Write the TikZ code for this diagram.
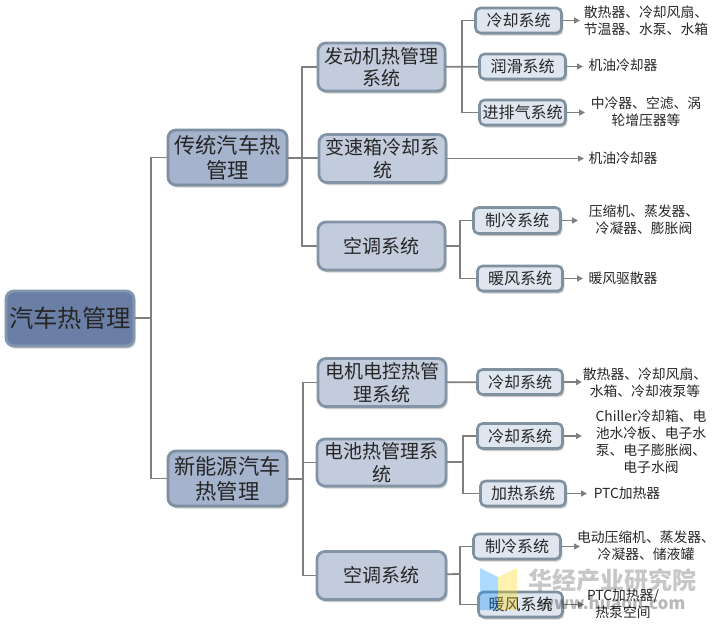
\documentclass[tikz,border=0pt]{standalone}
\usepackage{fontspec}
\setmainfont{Noto Sans CJK SC}
\usetikzlibrary{arrows.meta,shadows,calc}
\definecolor{rootfill}{HTML}{6B7FA6}
\definecolor{rootedge}{HTML}{8496AE}
\definecolor{onefill}{HTML}{A5B3CC}
\definecolor{oneedge}{HTML}{7D90A3}
\definecolor{twofill}{HTML}{C3CCDD}
\definecolor{twoedge}{HTML}{8294A6}
\definecolor{threefill}{HTML}{DFE6F0}
\definecolor{threeedge}{HTML}{7F909F}
\definecolor{wirecol}{HTML}{7F7F7F}
\tikzset{
  base/.style={rounded corners=8pt,align=center,inner sep=0pt,line width=2.8pt,text=black!85,
    general shadow={shadow xshift=1.2pt,shadow yshift=-2pt,fill=black,opacity=.18},
    general shadow={shadow xshift=2pt,shadow yshift=-2.8pt,fill=black,opacity=.10}},
  rootbox/.style={base,draw=rootedge,fill=rootfill,font=\fontsize{24.3}{25}\selectfont},
  lvlone/.style={base,draw=oneedge,fill=onefill,font=\fontsize{21.3}{25}\selectfont},
  lvltwo/.style={base,draw=twoedge,fill=twofill,font=\fontsize{19}{22.5}\selectfont},
  lvlthree/.style={base,rounded corners=5pt,line width=2.6pt,draw=threeedge,fill=threefill,font=\fontsize{16}{18}\selectfont},
  leaf/.style={align=center,inner sep=0pt,text=black!85,font=\fontsize{13.8}{17}\selectfont},
  wire/.style={draw=wirecol,line width=1.8pt},
  arrowline/.style={draw=wirecol,line width=1.6pt,-{Triangle[length=6pt,width=6pt]}},
  thinarrow/.style={draw=wirecol,line width=1pt,-{Triangle[length=6pt,width=6pt]}},
}
\newcommand{\bx}[7]{\node[#1,minimum width=#6pt,minimum height=#7pt] (#2) at (#4,#5) {#3};}
\begin{document}
\begin{tikzpicture}[x=1pt,y=-1pt]
\useasboundingbox (0,0) rectangle (715,630);
% bus coordinates
\coordinate (bA) at (151,318);
\coordinate (bB) at (302,157);
\coordinate (bC) at (303,479);
\coordinate (bD) at (462,66);
\coordinate (bE) at (460,246);
\coordinate (bF) at (463,462);
\coordinate (bG) at (460,574);
\coordinate (e3) at (585,112.5);
\coordinate (e4) at (578,220.5);
\coordinate (e7) at (582,436);
\coordinate (e9) at (580,546.5);
\coordinate (e10) at (584,604.5);
% connectors
\draw[wire] (70,318.5) -- (bA);
\draw[wire] (227.5,157.5) -| (bA) |- (227.5,478.5);
\draw[wire] (227.5,157.5) -- (382.5,158.5);
\draw[wire] (381.5,67) -| (bB) |- (381.5,246);
\draw[wire] (227.5,478.5) -- (bC);
\draw[wire] (382,382.5) -| (bC) |- (381.5,575.5);
\draw[wire] (bC |- 0,462.5) -- (381.5,462.5);
\draw[wire] (381.5,67) -- (522.5,66.5);
\draw[wire] (518.5,20.5) -| (bD) |- (522.5,112.5);
\draw[wire] (381.5,246) -- (bE);
\draw[wire] (517,220.5) -| (bE) |- (520,278.5);
\draw[wire] (382,382.5) -- (520,382);
\draw[wire] (381.5,462.5) -- (bF);
\draw[wire] (520,436) -| (bF) |- (523,493.5);
\draw[wire] (381.5,575.5) -- (bG);
\draw[wire] (517,546.5) -| (bG) |- (520.5,604.5);
% level 0-1
\bx{rootbox}{root}{汽车热管理}{70}{318.5}{128}{55}
\bx{lvlone}{trad}{传统汽车热\\管理}{227.5}{157.5}{119}{55}
\bx{lvlone}{newe}{新能源汽车\\热管理}{227.5}{478.5}{119}{55}
% level 2
\bx{lvltwo}{eng}{发动机热管理\\系统}{381.5}{67}{127}{48}
\bx{lvltwo}{gear}{变速箱冷却系\\统}{382.5}{158.5}{127}{48}
\bx{lvltwo}{ac}{空调系统}{381.5}{246}{127}{48}
\bx{lvltwo}{motor}{电机电控热管\\理系统}{382}{382.5}{128}{48}
\bx{lvltwo}{batt}{电池热管理系\\统}{381.5}{462.5}{129}{47}
\bx{lvltwo}{acb}{空调系统}{381.5}{575.5}{129}{48}
% level 3
\bx{lvlthree}{s1}{冷却系统}{518.5}{20.5}{86}{25}
\bx{lvlthree}{s2}{润滑系统}{522.5}{66.5}{86}{25}
\bx{lvlthree}{s3}{进排气系统}{522.5}{112.5}{86}{25}
\bx{lvlthree}{s4}{制冷系统}{517}{220.5}{87}{26}
\bx{lvlthree}{s5}{暖风系统}{520}{278.5}{85}{25}
\bx{lvlthree}{s6}{冷却系统}{520}{382}{85}{25}
\bx{lvlthree}{s7}{冷却系统}{520}{436}{85}{25}
\bx{lvlthree}{s8}{加热系统}{523}{493.5}{85}{25}
\bx{lvlthree}{s9}{制冷系统}{517}{546.5}{87}{25}
\bx{lvlthree}{s10}{暖风系统}{520.5}{604.5}{84}{25}
% leaves
\node[leaf] (l1) at (646,21) {散热器、冷却风扇、\\节温器、水泵、水箱};
\node[leaf] (l2) at (623,65) {机油冷却器};
\node[leaf] (l3) at (646,112) {中冷器、空滤、涡\\轮增压器等};
\node[leaf] (l4) at (623,158) {机油冷却器};
\node[leaf] (l5) at (644,220) {压缩机、蒸发器、\\冷凝器、膨胀阀};
\node[leaf] (l6) at (623,278) {暖风驱散器};
\node[leaf] (l7) at (645,383) {散热器、冷却风扇、\\水箱、冷却液泵等};
\node[leaf] (l8) at (651,441.5) {Chiller冷却箱、电\\池水冷板、电子水\\泵、电子膨胀阀、\\电子水阀};
\node[leaf] (l9) at (627,493) {PTC加热器};
\node[leaf] (l10) at (646,546) {电动压缩机、蒸发器、\\冷凝器、储液罐};
\node[leaf] (l11) at (623,604) {PTC加热器/\\热泵空间};
% arrows
\draw[arrowline] (s1.east) -- (580,20.5);
\draw[arrowline] (s2.east) -- (583,66.5);
\draw[arrowline] (s3.east) -- (e3);
\draw[thinarrow] (gear.east) -- (584,158.5);
\draw[arrowline] (s4.east) -- (e4);
\draw[arrowline] (s5.east) -- (583,278.5);
\draw[arrowline] (s6.east) -- (582,382);
\draw[arrowline] (s7.east) -- (e7);
\draw[arrowline] (s8.east) -- (587,493.5);
\draw[arrowline] (s9.east) -- (e9);
\draw[arrowline] (s10.east) -- (e10);
% watermark
\fill[blue!45!cyan,opacity=.32] (480,568) -- (498,577) -- (498,610) -- (480,610) -- cycle;
\fill[yellow!75!orange,opacity=.32] (498,577) -- (517,568) -- (517,610) -- (498,610) -- cycle;
\node[inner sep=0pt,text=black,opacity=.22,font=\fontsize{24}{24}\selectfont\bfseries] (wm1) at (612,580.5) {华经产业研究院};
\node[inner sep=0pt,text=black,opacity=.28,font=\fontsize{17}{17}\selectfont\bfseries] (wm2) at (612,603) {www.huaon.com};
\end{tikzpicture}
\end{document}
